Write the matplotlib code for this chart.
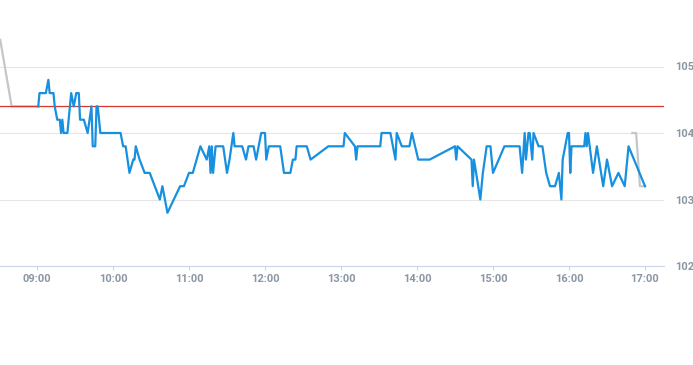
import pandas as pd
import matplotlib
matplotlib.use('Agg')
import matplotlib.pyplot as plt
import matplotlib.dates as mdates

day = '2024-01-02 '

# pre-market (gray)
pre_times = ['08:31', '08:40', '09:01']
pre_prices = [105.4, 104.4, 104.4]

# regular session (blue)
times = ['09:01', '09:02', '09:07', '09:09', '09:10', '09:13', '09:14', '09:16', '09:18', '09:19',
         '09:20', '09:21', '09:24', '09:27', '09:29', '09:31', '09:33', '09:34', '09:37', '09:40',
         '09:43', '09:44', '09:46', '09:47', '09:48', '09:50', '10:06', '10:08', '10:10', '10:13',
         '10:16', '10:17', '10:18', '10:21', '10:25', '10:29', '10:37', '10:39', '10:43', '10:53',
         '10:56', '11:00', '11:03', '11:06', '11:09', '11:14', '11:16', '11:17', '11:18', '11:19',
         '11:21', '11:27', '11:30', '11:32', '11:35', '11:36', '11:42', '11:45', '11:47', '11:51',
         '11:53', '11:57', '12:00', '12:01', '12:03', '12:12', '12:15', '12:20', '12:22', '12:24',
         '12:25', '12:33', '12:36', '12:50', '13:02', '13:03', '13:11', '13:12', '13:13', '13:31',
         '13:32', '13:39', '13:43', '13:44', '13:48', '13:54', '13:56', '14:01', '14:10', '14:30',
         '14:31', '14:32', '14:43', '14:44', '14:45', '14:50', '14:52', '14:55', '14:58', '15:00',
         '15:09', '15:21', '15:23', '15:25', '15:26', '15:28', '15:29', '15:31', '15:32', '15:36',
         '15:39', '15:42', '15:45', '15:49', '15:52', '15:54', '15:55', '15:59', '16:00', '16:01',
         '16:02', '16:12', '16:13', '16:14', '16:15', '16:19', '16:22', '16:27', '16:30', '16:34',
         '16:39', '16:44', '16:47', '17:00']
prices = [104.4, 104.6, 104.6, 104.8, 104.6, 104.6, 104.4, 104.2, 104.2, 104.0,
          104.2, 104.0, 104.0, 104.6, 104.4, 104.6, 104.6, 104.2, 104.2, 104.0,
          104.4, 103.8, 103.8, 104.4, 104.4, 104.0, 104.0, 103.8, 103.8, 103.4,
          103.6, 103.6, 103.8, 103.6, 103.4, 103.4, 103.0, 103.2, 102.8, 103.2,
          103.2, 103.4, 103.4, 103.6, 103.8, 103.6, 103.8, 103.4, 103.8, 103.4,
          103.8, 103.8, 103.4, 103.6, 104.0, 103.8, 103.8, 103.6, 103.8, 103.8,
          103.6, 104.0, 104.0, 103.6, 103.8, 103.8, 103.4, 103.4, 103.6, 103.6,
          103.8, 103.8, 103.6, 103.8, 103.8, 104.0, 103.8, 103.6, 103.8, 103.8,
          104.0, 104.0, 103.6, 104.0, 103.8, 103.8, 104.0, 103.6, 103.6, 103.8,
          103.6, 103.8, 103.6, 103.2, 103.6, 103.0, 103.4, 103.8, 103.8, 103.4,
          103.8, 103.8, 103.4, 104.0, 103.6, 104.0, 104.0, 103.6, 104.0, 103.8,
          103.8, 103.4, 103.2, 103.2, 103.4, 103.0, 103.6, 104.0, 104.0, 103.4,
          103.8, 103.8, 104.0, 103.8, 104.0, 103.4, 103.8, 103.2, 103.6, 103.2,
          103.4, 103.2, 103.8, 103.2]

# after-hours (gray)
post_times = ['16:50', '16:53', '16:56', '17:00']
post_prices = [104.0, 104.0, 103.2, 103.2]

prev_close = 104.4


def to_dt(ts):
    return pd.to_datetime([day + t for t in ts])


label_color = '#8b96a3'
fig = plt.figure(figsize=(6.93, 3.65), dpi=100)
ax = fig.add_axes([0, 1 - 266 / 365, 664 / 693, 266 / 365])

ax.plot(to_dt(pre_times), pre_prices, color='#c3c7cc', lw=1.6, zorder=2)
ax.plot(to_dt(post_times), post_prices, color='#c3c7cc', lw=1.6, zorder=2)
ax.axhline(prev_close, color='#d9362b', lw=0.9, zorder=3)
ax.plot(to_dt(times), prices, color='#1790e0', lw=1.6, zorder=4)

ax.set_xlim(pd.Timestamp(day + '08:30:48'), pd.Timestamp(day + '17:15'))
ax.set_ylim(102, 106)

ax.xaxis.set_major_locator(mdates.HourLocator())
ax.xaxis.set_major_formatter(mdates.DateFormatter('%H:%M'))
ax.set_yticks([102, 103, 104, 105])
ax.yaxis.tick_right()
ax.grid(axis='y', color='#e6e6e6', lw=0.8)
ax.set_axisbelow(True)

for s in ['top', 'left', 'right']:
    ax.spines[s].set_visible(False)
ax.spines['bottom'].set_color('#ccd6eb')
ax.spines['bottom'].set_linewidth(0.8)

fnt = ['Liberation Sans Narrow', 'Roboto', 'DejaVu Sans']
ax.tick_params(axis='x', colors='#ccd6eb', length=3, width=0.8, pad=3)
ax.tick_params(axis='y', length=0, pad=8)
for lbl in ax.get_xticklabels() + ax.get_yticklabels():
    lbl.set_family(fnt)
    lbl.set_fontsize(8)
    lbl.set_fontweight('bold')
    lbl.set_color(label_color)

fig.savefig('out.png', dpi=100)
